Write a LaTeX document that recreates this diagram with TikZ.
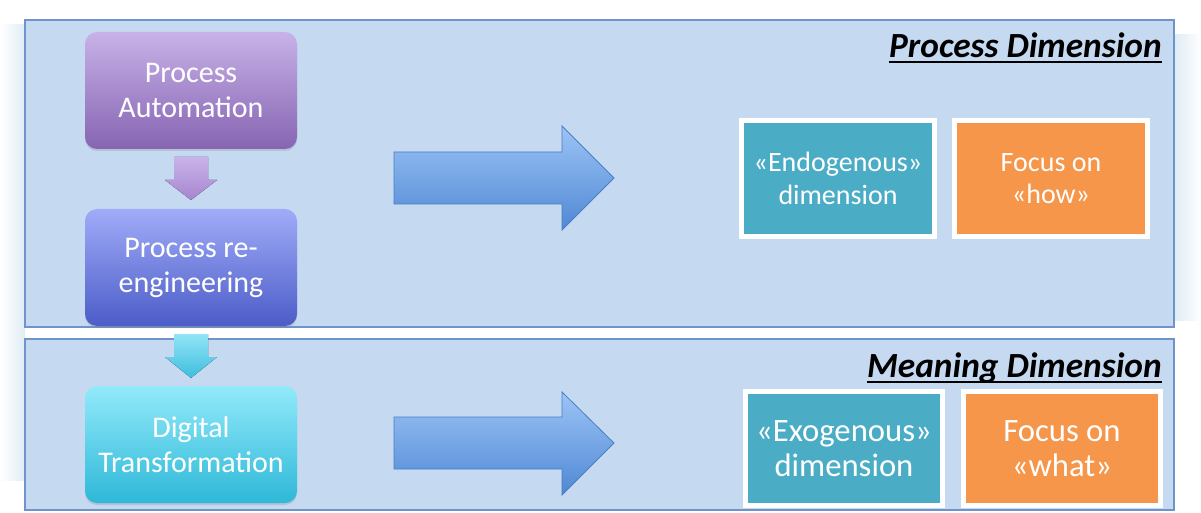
\documentclass[tikz,border=0pt]{standalone}
\usepackage{fontspec}
\setmainfont{Carlito}
\usetikzlibrary{calc,shadows}
\definecolor{panelfill}{HTML}{C5D9F1}
\definecolor{paneldraw}{HTML}{6F93CB}
\definecolor{bgblue}{HTML}{DFECF5}
\definecolor{teal}{HTML}{4BACC6}
\definecolor{orng}{HTML}{F5964A}
\definecolor{arrowtop}{HTML}{9CC4F6}
\definecolor{arrowbot}{HTML}{5088D4}
\definecolor{arrowdraw}{HTML}{4A7EC4}
\tikzset{
  panel/.style={fill=panelfill, draw=paneldraw, line width=0.8pt},
  stagebox/.style={rounded corners=9pt, minimum width=159pt, minimum height=87.75pt,
    align=center, text=white, font=\fontsize{22.5}{26.3}\selectfont, inner sep=0pt,
    drop shadow={shadow xshift=0pt, shadow yshift=-1.5pt, opacity=0.25}},
  dimbox/.style={draw=white, line width=3.75pt, align=center, text=white, inner sep=0pt,
    drop shadow={shadow xshift=0.8pt, shadow yshift=-1.2pt, opacity=0.2}},
  dimtitle/.style={anchor=base east, inner sep=0pt, font=\fontsize{26.5}{30}\selectfont\bfseries\itshape},
  bigarrow/.style={top color=arrowtop, bottom color=arrowbot, draw=arrowdraw, line width=0.6pt},
}
\begin{document}
\begin{tikzpicture}[x=0.75pt,y=-0.75pt]
\useasboundingbox (0,0) rectangle (1201,513);
\fill[white] (0,0) rectangle (1201,513);
% faint background swirl at the edges
\fill[left color=white, right color=bgblue] (0,25) rectangle (25,480);
\fill[left color=bgblue, right color=white] (1175,35) rectangle (1201,320);
% panels
\draw[panel] (25,20) rectangle (1174,327);
\draw[panel] (25,339) rectangle (1174,510);
% titles
\node[dimtitle] (t1) at (1162,58) {Process Dimension};
\draw[line width=1.5pt] ($(t1.base west)+(0,4.5)$) -- ($(t1.base east)+(0,4.5)$);
\node[dimtitle] (t2) at (1162,377) {Meaning Dimension};
\draw[line width=1.5pt] ($(t2.base west)+(0,4.5)$) -- ($(t2.base east)+(0,4.5)$);
% stage boxes
\node[stagebox, top color={rgb,255:red,200;green,178;blue,232}, bottom color={rgb,255:red,134;green,100;blue,178}]
  (pa) at (191,90.5) {Process\\Automation};
\node[stagebox, top color={rgb,255:red,160;green,172;blue,248}, bottom color={rgb,255:red,76;green,92;blue,200}]
  (pr) at (191,267.5) {Process re-\\engineering};
\node[stagebox, top color={rgb,255:red,146;green,234;blue,250}, bottom color={rgb,255:red,46;green,184;blue,216}]
  (dt) at (191,444.5) {Digital\\Transformation};
% down arrows
\fill[top color={rgb,255:red,202;green,178;blue,234}, bottom color={rgb,255:red,166;green,134;blue,206}]
  (174,157) -- (208,157) -- (208,180) -- (217,180) -- (191,200) -- (165,180) -- (174,180) -- cycle;
\fill[top color={rgb,255:red,146;green,228;blue,246}, bottom color={rgb,255:red,62;green,190;blue,222}]
  (174,334) -- (208,334) -- (208,357) -- (217,357) -- (191,378) -- (165,357) -- (174,357) -- cycle;
% big right arrows
\draw[bigarrow] (394,152) -- (562,152) -- (562,126) -- (614,178) -- (562,230) -- (562,204) -- (394,204) -- cycle;
\draw[bigarrow] (394,417) -- (562,417) -- (562,392) -- (614,443) -- (562,495) -- (562,469) -- (394,469) -- cycle;
% dimension boxes
\node[dimbox, fill=teal, minimum width=144.75pt, minimum height=87pt, font=\fontsize{21}{24.5}\selectfont]
  (endo) at (838,178.5) {«Endogenous»\\dimension};
\node[dimbox, fill=orng, minimum width=144.75pt, minimum height=87pt, font=\fontsize{21}{24.5}\selectfont]
  (how) at (1051,178.5) {Focus on\\«how»};
\node[dimbox, fill=teal, minimum width=147.75pt, minimum height=85.5pt, font=\fontsize{24.5}{26.5}\selectfont]
  (exo) at (844,448.5) {«Exogenous»\\dimension};
\node[dimbox, fill=orng, minimum width=147.75pt, minimum height=85.5pt, font=\fontsize{24.5}{26.5}\selectfont]
  (what) at (1062,448.5) {Focus on\\«what»};
\end{tikzpicture}
\end{document}
